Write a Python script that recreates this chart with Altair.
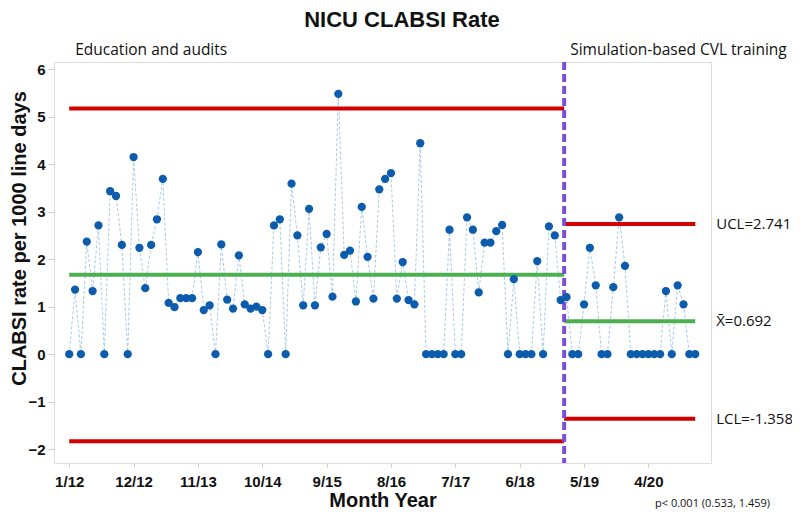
import altair as alt
import pandas as pd

# ---- data ----
rates_phase1 = [0, 1.36, 0, 2.37, 1.33, 2.71, 0, 3.43, 3.33, 2.30,
                0, 4.15, 2.24, 1.39, 2.30, 2.84, 3.69, 1.08, 0.99, 1.18,
                1.18, 1.18, 2.15, 0.93, 1.03, 0, 2.31, 1.15, 0.96, 2.08,
                1.05, 0.96, 1.00, 0.93, 0, 2.71, 2.84, 0, 3.59, 2.50,
                1.03, 3.06, 1.03, 2.25, 2.53, 1.21, 5.48, 2.09, 2.18, 1.11,
                3.10, 2.05, 1.17, 3.47, 3.69, 3.81, 1.17, 1.94, 1.14, 1.05,
                4.44, 0, 0, 0, 0, 2.62, 0, 0, 2.88, 2.62,
                1.30, 2.35, 2.35, 2.59, 2.72, 0, 1.58, 0, 0, 0,
                1.96, 0, 2.69, 2.50, 1.14]
rates_phase2 = [1.20, 0, 0, 1.05, 2.24, 1.45, 0, 0, 1.41, 2.88,
                1.86, 0, 0, 0, 0, 0, 0, 1.33, 0, 1.45,
                1.05, 0, 0]

tick_labels = ["1/12", "12/12", "11/13", "10/14", "9/15", "8/16", "7/17", "6/18", "5/19", "4/20"]
tick_step = 11

phase_names = ["Education and audits", "Simulation-based CVL training"]
phase_start = [0, 84.6]
phase_end = [84.6, 107]
phase_ucl = [5.17, 2.741]
phase_mean = [1.67, 0.692]
phase_lcl = [-1.83, -1.358]
change_point = [84.6]
p_note = ["p< 0.001 (0.533, 1.459)"]
chart_title = ["NICU CLABSI Rate"]

rates = rates_phase1 + rates_phase2
df = pd.DataFrame({"month": list(range(len(rates))), "rate": rates})
phases = pd.DataFrame({"name": phase_names, "start": phase_start, "end": phase_end,
                       "ucl": phase_ucl, "mean": phase_mean, "lcl": phase_lcl})

XDOM = [-2.6, 109.7]
YDOM = [-2.29, 6.15]
xs = alt.Scale(domain=XDOM, nice=False, zero=False)
ys = alt.Scale(domain=YDOM, nice=False, zero=False)

label_js = "[" + ",".join("'%s'" % t for t in tick_labels) + "]"

x_enc = alt.X("month:Q", scale=xs, title="Month Year",
              axis=alt.Axis(values=[i * tick_step for i in range(len(tick_labels))],
                            labelExpr=label_js + "[round(datum.value/%d)]" % tick_step,
                            grid=False, domain=False, tickColor="#cccccc", tickSize=4,
                            labelFont="Liberation Sans", labelFontWeight="bold", labelFontSize=15,
                            labelColor="#111111", labelPadding=7,
                            titleFont="Liberation Sans", titleFontWeight="bold", titleFontSize=20,
                            titleColor="#111111", titleBaseline="alphabetic", titleY=43))
y_enc = alt.Y("rate:Q", scale=ys, title="CLABSI rate per 1000 line days",
              axis=alt.Axis(values=list(range(-2, 7)), grid=False, domain=False,
                            tickColor="#cccccc", tickSize=6,
                            labelFont="Liberation Sans", labelFontWeight="bold", labelFontSize=15,
                            labelColor="#111111", labelPadding=3,
                            titleFont="Liberation Sans", titleFontWeight="bold", titleFontSize=20,
                            titleColor="#111111", titleBaseline="middle", titleX=-35, titleY=176))

base = alt.Chart(df)
line = base.mark_line(color="#9DC3E6", strokeWidth=0.9, strokeDash=[3, 2]).encode(x=x_enc, y=y_enc)
pts = base.mark_circle(color="#0B5CAD", size=68, opacity=1).encode(x="month:Q", y="rate:Q")

pb = alt.Chart(phases)
ucl = pb.mark_rule(color="#D40000", strokeWidth=4).encode(x="start:Q", x2="end:Q", y="ucl:Q")
lcl = pb.mark_rule(color="#D40000", strokeWidth=4).encode(x="start:Q", x2="end:Q", y="lcl:Q")
cl = pb.mark_rule(color="#4CAF50", strokeWidth=4).encode(x="start:Q", x2="end:Q", y="mean:Q")

vline = alt.Chart(pd.DataFrame({"cp": change_point})).mark_rule(
    color="#7B4FD6", strokeWidth=4, strokeDash=[8, 4]).encode(x="cp:Q")

phase_txt = pb.mark_text(align="left", baseline="alphabetic", font="Open Sans", fontSize=15.5,
                         color="#111111", dy=-7, dx=6).encode(
    x="start:Q", y=alt.value(0), text="name:N")

p2 = phases.iloc[[1]].copy()
p2["ucl_t"] = ["UCL=%.3f" % phase_ucl[1]]
p2["mean_t"] = ["X\u0304=%.3f" % phase_mean[1]]
p2["lcl_t"] = ["LCL=%.3f" % phase_lcl[1]]
rb = alt.Chart(p2)
rt_kw = dict(align="left", baseline="middle", font="Open Sans", fontSize=15, color="#111111", dx=21)
ucl_t = rb.mark_text(**rt_kw).encode(x="end:Q", y="ucl:Q", text="ucl_t:N")
mean_t = rb.mark_text(**rt_kw).encode(x="end:Q", y="mean:Q", text="mean_t:N")
lcl_t = rb.mark_text(**rt_kw).encode(x="end:Q", y="lcl:Q", text="lcl_t:N")

note = alt.Chart(pd.DataFrame({"t": p_note})).mark_text(
    align="left", baseline="middle", font="Open Sans", fontSize=11, color="#111111").encode(
    x=alt.value(601), y=alt.value(442), text="t:N")

title_txt = alt.Chart(pd.DataFrame({"t": chart_title})).mark_text(
    align="center", baseline="alphabetic", font="Liberation Sans", fontWeight="bold",
    fontSize=22, color="#111111").encode(x=alt.value(348), y=alt.value(-35), text="t:N")

chart = alt.layer(line, ucl, lcl, cl, vline, pts, phase_txt, ucl_t, mean_t, lcl_t, note,
                  title_txt).properties(
    width=657, height=401,
    autosize=alt.AutoSizeParams(type="none"),
    padding={"left": 46, "top": 54, "right": 81, "bottom": 46},
).configure_view(stroke="#dddddd", strokeWidth=1).configure(background="white")

chart.save("out.html", embed_options={"renderer": "svg", "actions": False})
